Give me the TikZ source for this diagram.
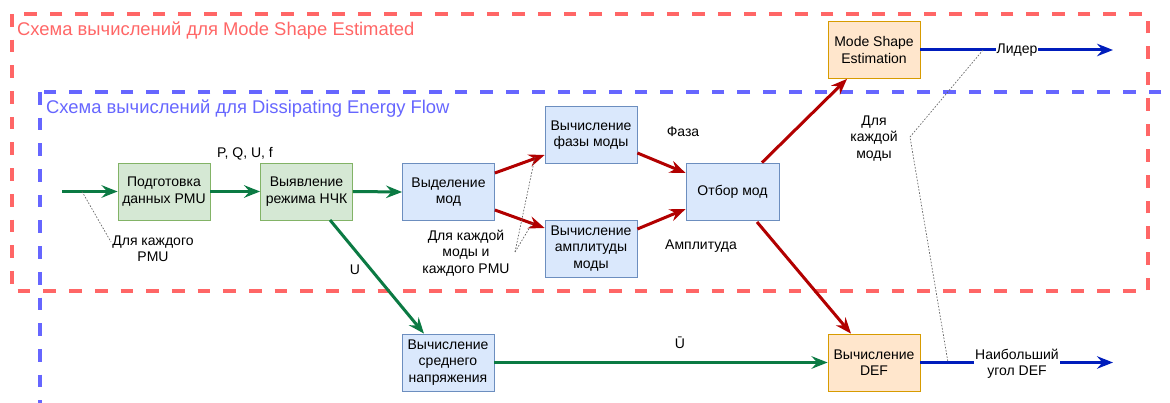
\documentclass[tikz,border=0pt]{standalone}
\usepackage{fontspec}
\setmainfont{Liberation Sans}
\usetikzlibrary{arrows.meta}
\definecolor{cred}{HTML}{FF6666}
\definecolor{cblue}{HTML}{6666FF}
\definecolor{ared}{HTML}{B20000}
\definecolor{agreen}{HTML}{0B7A43}
\definecolor{ablue}{HTML}{001DBC}
\definecolor{gfill}{HTML}{D5E8D4}
\definecolor{gdraw}{HTML}{82B366}
\definecolor{bfill}{HTML}{DAE8FC}
\definecolor{bdraw}{HTML}{6C8EBF}
\definecolor{ofill}{HTML}{FFE6CC}
\definecolor{odraw}{HTML}{D79B00}
\begin{document}
\begin{tikzpicture}[x=1pt,y=-1pt,
  box/.style={draw, line width=0.8pt, minimum width=92pt, minimum height=57pt,
    align=center, inner sep=2pt, font=\fontsize{14}{16.5}\selectfont},
  gbox/.style={box, fill=gfill, draw=gdraw},
  bbox/.style={box, fill=bfill, draw=bdraw},
  obox/.style={box, fill=ofill, draw=odraw},
  lbl/.style={align=center, inner sep=1pt, font=\fontsize{14}{16.5}\selectfont},
  tip/.style={-{Stealth[length=16pt,width=12.5pt,inset=5.5pt]}},
  garrow/.style={draw=agreen, line width=3pt, tip},
  rarrow/.style={draw=ared, line width=3pt, tip},
  barrow/.style={draw=ablue, line width=3pt, tip},
  redframe/.style={draw=cred, line width=3.5pt, dash pattern=on 12.7pt off 13pt},
  blueframe/.style={draw=cblue, line width=3.5pt, dash pattern=on 12.7pt off 13pt},
  note/.style={draw=black!60, line width=0.7pt, dash pattern=on 1.6pt off 1.6pt}
]
\useasboundingbox (0,0) rectangle (1170,403);

% frames
\draw[blueframe] (40,92) rectangle (1200,405);
\draw[redframe] (12,14) rectangle (1148,291);
\node[anchor=west, inner sep=0pt, text=cred, font=\fontsize{18.4}{21}\selectfont] (tred) at (17,31) {Схема вычислений для Mode Shape Estimated};
\node[anchor=west, inner sep=0pt, text=cblue, font=\fontsize{18.4}{21}\selectfont] (tblue) at (46,109) {Схема вычислений для Dissipating Energy Flow};

% nodes
\node[gbox] (prep) at (164,191.5) {Подготовка\\данных PMU};
\node[gbox] (vyav) at (306.5,191.5) {Выявление\\режима НЧК};
\node[bbox] (vydel) at (448.5,192) {Выделение\\мод};
\node[bbox] (faza) at (591,135) {Вычисление\\фазы моды};
\node[bbox] (ampl) at (591,248.5) {Вычисление\\амплитуды\\моды};
\node[bbox, minimum width=93pt] (otbor) at (732.5,191.5) {Отбор мод};
\node[obox] (ms) at (874,50) {Mode Shape\\Estimation};
\node[bbox] (sred) at (448,362.5) {Вычисление\\среднего\\напряжения};
\node[obox] (def) at (874,362.5) {Вычисление\\DEF};

% coordinates
\coordinate (in) at (62,191.5);
\coordinate (outL) at (1113,51);
\coordinate (outD) at (1113,362.5);

% arrows
\draw[garrow] (in) -- (prep.west);
\draw[garrow] (prep.east) -- (vyav.west);
\draw[garrow] (vyav.east) -- (vydel.west);
\draw[garrow] (330,220) -- (sred.north west -| 424,0);
\draw[rarrow] (vydel.east |- 0,173) -- (faza.west |- 0,155);
\draw[rarrow] (vydel.east |- 0,210) -- (ampl.west |- 0,228);
\draw[rarrow] (faza.east |- 0,153) -- (otbor.west |- 0,173);
\draw[rarrow] (ampl.east |- 0,229) -- (otbor.west |- 0,209);
\draw[rarrow] (otbor.north -| 762,0) -- (ms.south -| 847,0);
\draw[rarrow] (757,222) -- (def.north -| 851,0);
\draw[garrow] (sred.east) -- (def.west);
\draw[barrow] (ms.east) -- (ms.east -| outL);
\draw[barrow] (def.east) -- (outD);

% labels
\node[lbl] (lpq) at (245,154) {P, Q, U, f};
\node[lbl] (lu) at (355,270) {U};
\node[lbl] (lfaza) at (683,132) {Фаза};
\node[lbl] (lampl) at (701,246) {Амплитуда};
\node[lbl] (lubar) at (680,343) {Ū};
\node[lbl, fill=white, inner xsep=0.5pt] (llid) at (1017,50) {Лидер};
\node[lbl, fill=white, inner xsep=1pt] (lbig) at (1017,364) {Наибольший\\угол DEF};
\node[lbl] (lpmu) at (153,249) {Для каждого\\PMU};
\node[lbl] (lmody) at (466,253) {Для каждой\\моды и\\каждого PMU};
\node[lbl] (lkm) at (874,138.5) {Для\\каждой\\моды};

% annotation lines
\coordinate (n1a) at (82,191.5);
\coordinate (n1b) at (111,242);
\draw[note] (n1a) -- (n1b);
\coordinate (n2) at (515,252);
\draw[note] (n2) -- (535,157);
\draw[note] (n2) -- (533,222);
\coordinate (n3a) at (983,50);
\coordinate (n3b) at (910,137);
\coordinate (n3c) at (948,362.5);
\draw[note] (n3a) -- (n3b) -- (n3c);
\end{tikzpicture}
\end{document}
